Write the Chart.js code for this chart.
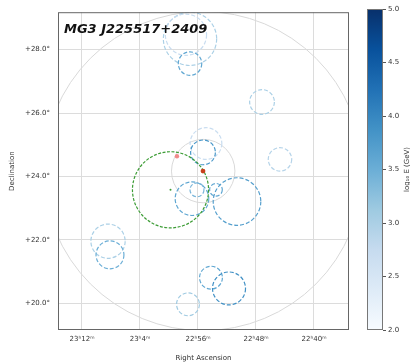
<!DOCTYPE html>
<html>
<head>
<meta charset="utf-8">
<script src="https://cdn.jsdelivr.net/npm/chart.js@4/dist/chart.umd.min.js"></script>
<style>
  body { margin: 0; background: #fff; }
  #sky { position: absolute; left: 0; top: 0; }
  #cbar { position: absolute; left: 355px; top: 0; }
</style>
</head>
<body>
<canvas id="sky" width="360" height="362"></canvas>
<canvas id="cbar" width="55" height="362"></canvas>
<script>
// RA is kept in minutes of time (23h12m = 1392), Dec in degrees
var raTicks = [1392, 1384, 1376, 1368, 1360];
var raTickLabels = ['23ʰ12ᵐ', '23ʰ4ᵐ', '22ʰ56ᵐ', '22ʰ48ᵐ', '22ʰ40ᵐ'];
var decTicks = [20, 22, 24, 26, 28];
var decTickLabels = ['+20.0°', '+22.0°', '+24.0°', '+26.0°', '+28.0°'];
var cbTicks = [2.0, 2.5, 3.0, 3.5, 4.0, 4.5, 5.0];

// event circles (center, radius in deg, log10 E)
var circleRa  = [1377.10, 1377.66, 1377.10, 1367.17, 1364.69, 1374.90, 1375.31, 1376.83, 1376.14, 1373.52, 1370.62, 1388.41, 1388.14, 1374.21, 1371.72, 1377.38];
var circleDec = [28.34, 28.47, 27.56, 26.35, 24.54, 25.04, 24.76, 23.30, 23.58, 23.58, 23.21, 21.96, 21.53, 20.81, 20.47, 19.97];
var circleRad = [0.84, 0.65, 0.37, 0.39, 0.37, 0.50, 0.39, 0.53, 0.22, 0.20, 0.75, 0.54, 0.44, 0.36, 0.52, 0.36];
var circleLogE = [3.0, 2.7, 3.6, 3.0, 2.9, 2.7, 3.8, 3.6, 3.4, 3.6, 3.7, 3.0, 3.5, 3.6, 3.9, 3.1];

// region of interest around the source
var roiRa = 1375.28, roiDec = 24.17;
var roiRadii = [5.03, 1.0];

// GRB localisation
var grbRa = [1379.79], grbDec = [23.58], grbRad = 1.2;
var srcRa = [1375.31], srcDec = [24.17];
var otherRa = [1378.90], otherDec = [24.64];

var blues = ['#f7fbff', '#deebf7', '#c6dbef', '#9ecae1', '#6baed6', '#4292c6', '#2171b5', '#08519c', '#08306b'];
function hex(c) { return [parseInt(c.substr(1,2),16), parseInt(c.substr(3,2),16), parseInt(c.substr(5,2),16)]; }
function bluesAt(v) {
  var t = Math.max(0, Math.min(1, (v - 2) / 3)) * (blues.length - 1);
  var i = Math.min(Math.floor(t), blues.length - 2), f = t - i;
  var a = hex(blues[i]), b = hex(blues[i+1]);
  return 'rgb(' + a.map(function(x, k) { return Math.round(x + (b[k]-x)*f); }).join(',') + ')';
}

function pts(xs, ys) { return xs.map(function(x, i) { return {x: x, y: ys[i]}; }); }

Chart.defaults.font.family = 'DejaVu Sans';
Chart.defaults.font.size = 7;
Chart.defaults.color = '#333';

var circles = {
  id: 'circles',
  beforeDatasetsDraw: function(chart) {
    var ctx = chart.ctx, a = chart.chartArea, xs = chart.scales.x, ys = chart.scales.y;
    function rpx(dec, r) { return Math.abs(ys.getPixelForValue(dec + r) - ys.getPixelForValue(dec)); }
    ctx.save();
    ctx.beginPath();
    ctx.rect(a.left, a.top, a.right - a.left, a.bottom - a.top);
    ctx.clip();
    ctx.strokeStyle = '#d9d9d9';
    ctx.lineWidth = 1;
    roiRadii.forEach(function(r) {
      ctx.beginPath();
      ctx.arc(xs.getPixelForValue(roiRa), ys.getPixelForValue(roiDec), rpx(roiDec, r), 0, Math.PI * 2);
      ctx.stroke();
    });
    ctx.setLineDash([4, 2]);
    ctx.lineWidth = 1.2;
    circleRa.forEach(function(ra, i) {
      ctx.strokeStyle = bluesAt(circleLogE[i]);
      ctx.beginPath();
      ctx.arc(xs.getPixelForValue(ra), ys.getPixelForValue(circleDec[i]), rpx(circleDec[i], circleRad[i]), 0, Math.PI * 2);
      ctx.stroke();
    });
    ctx.strokeStyle = '#3c9c35';
    ctx.setLineDash([3, 1.5]);
    ctx.beginPath();
    ctx.arc(xs.getPixelForValue(grbRa[0]), ys.getPixelForValue(grbDec[0]), rpx(grbDec[0], grbRad), 0, Math.PI * 2);
    ctx.stroke();
    ctx.restore();
  },
  afterDraw: function(chart) {
    var ctx = chart.ctx, a = chart.chartArea;
    ctx.save();
    ctx.strokeStyle = '#666';
    ctx.lineWidth = 1;
    ctx.strokeRect(a.left + 0.5, a.top + 0.5, a.right - a.left - 1, a.bottom - a.top - 1);
    ctx.fillStyle = '#111';
    ctx.font = 'italic bold 13px DejaVu Sans';
    ctx.textBaseline = 'alphabetic';
    ctx.fillText('MG3 J225517+2409', a.left + 6, a.top + 21);
    ctx.restore();
  }
};

new Chart(document.getElementById('sky'), {
  type: 'scatter',
  data: {
    datasets: [
      {data: pts(grbRa, grbDec), pointRadius: 1, backgroundColor: '#3c9c35', borderWidth: 0},
      {data: pts(otherRa, otherDec), pointRadius: 2.2, backgroundColor: '#f08a8a', borderWidth: 0},
      {data: pts(srcRa, srcDec), pointRadius: 2.4, backgroundColor: '#c8401c', borderWidth: 0}
    ]
  },
  options: {
    responsive: false,
    animation: false,
    layout: {padding: {top: 8, right: 11, left: 0, bottom: 0}},
    plugins: {legend: {display: false}, tooltip: {enabled: false}},
    scales: {
      x: {
        type: 'linear', reverse: true, min: 1355.17, max: 1395.31,
        afterBuildTicks: function(s) { s.ticks = raTicks.map(function(v) { return {value: v}; }); },
        afterFit: function(s) { s.height = 32; },
        ticks: {padding: 5, maxRotation: 0, callback: function(v) { return raTickLabels[raTicks.indexOf(v)]; }},
        grid: {color: '#dcdcdc', drawTicks: false},
        border: {display: false},
        title: {display: true, text: 'Right Ascension', padding: {top: 0, bottom: 0}}
      },
      y: {
        type: 'linear', min: 19.16, max: 29.18,
        afterBuildTicks: function(s) { s.ticks = decTicks.map(function(v) { return {value: v}; }); },
        afterFit: function(s) { s.width = 58; },
        ticks: {padding: 8, callback: function(v) { return decTickLabels[decTicks.indexOf(v)]; }},
        grid: {color: '#dcdcdc', drawTicks: false},
        border: {display: false},
        title: {display: true, text: 'Declination', padding: 8}
      }
    }
  },
  plugins: [circles]
});

var cbFrame = {
  id: 'cbFrame',
  afterDraw: function(chart) {
    var ctx = chart.ctx, a = chart.chartArea;
    ctx.save();
    ctx.strokeStyle = '#777';
    ctx.lineWidth = 1;
    ctx.strokeRect(a.left + 0.5, a.top + 0.5, a.right - a.left - 1, a.bottom - a.top - 1);
    ctx.translate(52, (a.top + a.bottom) / 2);
    ctx.rotate(-Math.PI / 2);
    ctx.fillStyle = '#333';
    ctx.font = '7px DejaVu Sans';
    ctx.textAlign = 'center';
    ctx.textBaseline = 'middle';
    ctx.fillText('log₁₀ E (GeV)', 0, 0);
    ctx.restore();
  }
};

new Chart(document.getElementById('cbar'), {
  type: 'bar',
  data: {
    labels: ['E'],
    datasets: [{
      data: [[cbTicks[0], cbTicks[cbTicks.length - 1]]],
      barPercentage: 1, categoryPercentage: 1, borderWidth: 0,
      backgroundColor: function(c) {
        var a = c.chart.chartArea;
        if (!a) return blues[4];
        var g = c.chart.ctx.createLinearGradient(0, a.bottom, 0, a.top);
        blues.forEach(function(col, i) { g.addColorStop(i / (blues.length - 1), col); });
        return g;
      }
    }]
  },
  options: {
    responsive: false,
    animation: false,
    layout: {padding: {top: 9, right: 0, left: 12, bottom: 32}},
    plugins: {legend: {display: false}, tooltip: {enabled: false}},
    scales: {
      x: {display: false},
      y: {
        position: 'right', min: 2, max: 5,
        afterBuildTicks: function(s) { s.ticks = cbTicks.map(function(v) { return {value: v}; }); },
        afterFit: function(s) { s.width = 27; },
        ticks: {padding: 2, callback: function(v) { return v.toFixed(1); }},
        grid: {drawOnChartArea: false, tickLength: 3, color: '#555'},
        border: {display: false}
      }
    }
  },
  plugins: [cbFrame]
});
</script>
</body>
</html>
